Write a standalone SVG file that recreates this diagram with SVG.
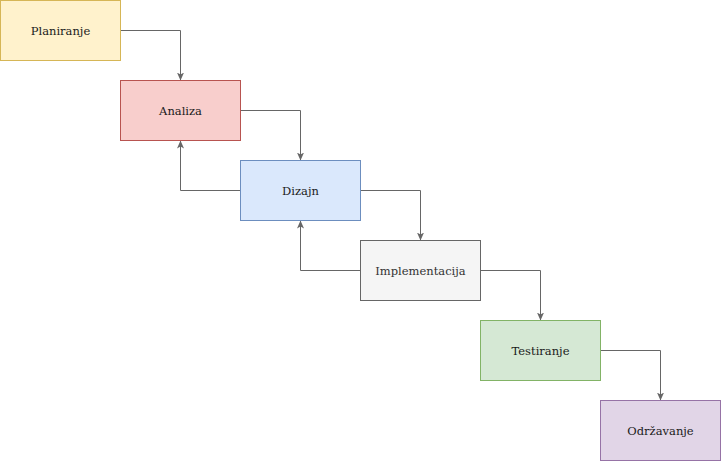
<svg xmlns="http://www.w3.org/2000/svg" width="721" height="461" viewBox="0 0 721 461">
<style>
.box{stroke-width:1}
.lbl{font-family:"DejaVu Serif","Liberation Serif",serif;font-size:11.5px;text-anchor:middle;dominant-baseline:central;fill:#1a1a1a}
.edge{fill:none;stroke:#666666;stroke-width:1}
</style>
<defs>
<marker id="arr" viewBox="0 0 10 10" refX="10" refY="5" markerWidth="8" markerHeight="8" markerUnits="userSpaceOnUse" orient="auto">
<path d="M0,0.6 L10,5 L0,9.4 L2.5,5 Z" fill="#666666" stroke="none"/>
</marker>
</defs>
<rect width="721" height="461" fill="#ffffff"/>
<g id="connectors">
<path class="edge" d="M120.5,30.5 H180.5 V80.5" marker-end="url(#arr)"/>
<path class="edge" d="M240.5,110.5 H300.5 V160.5" marker-end="url(#arr)"/>
<path class="edge" d="M240.5,190.5 H180.5 V140.5" marker-end="url(#arr)"/>
<path class="edge" d="M360.5,190.5 H420.5 V240.5" marker-end="url(#arr)"/>
<path class="edge" d="M360.5,270.5 H300.5 V220.5" marker-end="url(#arr)"/>
<path class="edge" d="M480.5,270.5 H540.5 V320.5" marker-end="url(#arr)"/>
<path class="edge" d="M600.5,350.5 H660.5 V400.5" marker-end="url(#arr)"/>
</g>
<g id="planiranje">
<rect class="box" x="0.5" y="0.5" width="120" height="60" fill="#fff2cc" stroke="#d6b656"/>
<text class="lbl" x="60.5" y="30.5">Planiranje</text>
</g>
<g id="analiza">
<rect class="box" x="120.5" y="80.5" width="120" height="60" fill="#f8cecc" stroke="#b85450"/>
<text class="lbl" x="180.5" y="110.5">Analiza</text>
</g>
<g id="dizajn">
<rect class="box" x="240.5" y="160.5" width="120" height="60" fill="#dae8fc" stroke="#6c8ebf"/>
<text class="lbl" x="300.5" y="190.5">Dizajn</text>
</g>
<g id="implementacija">
<rect class="box" x="360.5" y="240.5" width="120" height="60" fill="#f5f5f5" stroke="#666666"/>
<text class="lbl" x="420.5" y="270.5" style="fill:#333333">Implementacija</text>
</g>
<g id="testiranje">
<rect class="box" x="480.5" y="320.5" width="120" height="60" fill="#d5e8d4" stroke="#82b366"/>
<text class="lbl" x="540.5" y="350.5">Testiranje</text>
</g>
<g id="odrzavanje">
<rect class="box" x="600.5" y="400.5" width="120" height="60" fill="#e1d5e7" stroke="#9673a6"/>
<text class="lbl" x="660.5" y="430.5">Održavanje</text>
</g>
</svg>
